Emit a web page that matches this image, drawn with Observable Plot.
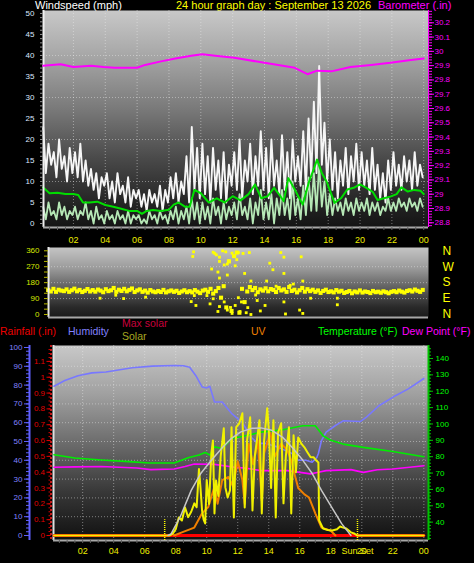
<!DOCTYPE html>
<html><head><meta charset="utf-8">
<script src="https://cdn.jsdelivr.net/npm/d3@7"></script>
<script src="https://cdn.jsdelivr.net/npm/@observablehq/plot@0.6"></script>
<style>
html,body{margin:0;padding:0;background:#000;}
#root{position:relative;width:474px;height:563px;overflow:hidden;background:#000;font-family:"Liberation Sans",Arial,sans-serif;}
#root svg{position:absolute;left:0;top:0;}
.t{position:absolute;white-space:nowrap;font-size:11px;line-height:11px;}
.h{position:absolute;white-space:nowrap;font-size:10.5px;line-height:11px;}
</style></head>
<body><div id="root">
<div class="t" style="left:35px;top:0px;color:#ffffff">Windspeed (mph)</div>
<div class="t" style="left:176px;top:0px;color:#ffff00">24 hour graph day : September 13 2026</div>
<div class="t" style="left:378px;top:0px;color:#ff00ff">Barometer (.in)</div>
<div class="h" style="left:0px;top:326px;color:#ee0000">Rainfall (.in)</div>
<div class="h" style="left:68px;top:326px;color:#8080ff">Humidity</div>
<div class="h" style="left:122px;top:318px;color:#c8003c">Max solar</div>
<div class="h" style="left:122px;top:331px;color:#a8a820">Solar</div>
<div class="h" style="left:251px;top:326px;color:#f08000">UV</div>
<div class="h" style="left:318px;top:326px;color:#00ff00">Temperature (°F)</div>
<div class="h" style="left:402px;top:326px;color:#ff00ff">Dew Point (°F)</div>
</div>
<script>
// ---------------- DATA ----------------
const hourTicks = [2,4,6,8,10,12,14,16,18,20,22,24];
const windTicks = [0,5,10,15,20,25,30,35,40,45,50];
const baroTicks = [28.8,28.9,29,29.1,29.2,29.3,29.4,29.5,29.6,29.7,29.8,29.9,30,30.1,30.2];
const dirTicks = [0,90,180,270,360];
const compassTicks = [360,270,180,90,0];
const compassLabels = ["N","W","S","E","N"];
const rainTicks = [0,0.1,0.2,0.3,0.4,0.5,0.6,0.7,0.8,0.9,1,1.1];
const humTicks = [0,10,20,30,40,50,60,70,80,90,100];
const tempTicks = [40,50,60,70,80,90,100,110,120,130,140];
const sunEvents = [7.29, 19.72];
const sunSetLabel = [{h: 19.72, label: "Sun Set"}];

// 10-minute samples starting 00:06
const tenMinHours = d3.range(144).map(i => 0.1 + i / 6);

const gust = [
23,12,19,14,17,11,
20,13,16,10,18,12,
17,11,19,10,15,9,
13,8,12,6,11,9,
12,6,10,5,12,7,
9,5,11,4,8,6,
8,4,7,3,8,5,
7,4,9,3,8,5,
11,6,12,5,10,7,
16,5,23,8,18,6,
19,7,16,5,18,8,
15,6,17,5,14,9,
17,8,20,6,15,10,
19,7,16,9,22,8,
18,6,20,9,15,7,
21,8,17,6,20,10,
16,9,22,8,25,11,
29,12,37.5,14,24,10,
20,8,17,6,15,9,
18,7,16,10,19,8,
17,9,15,7,18,8,
14,6,12,5,15,8,
17,9,14,8,16,10,
15,8,17,9,14,11];

const speed = [
4,1,5,2,3,1,
5,2,4,1,3,2,
4,1,3,2,5,1,
3,0,4,1,2,0,
3,1,2,0,3,1,
2,0,3,0,2,1,
2,0,1,0,3,1,
2,0,3,1,2,0,
3,1,4,0,3,1,
4,0,6,1,5,0,
5,1,4,0,6,2,
4,0,5,1,4,2,
5,1,7,2,4,1,
6,0,5,2,8,1,
5,1,7,0,6,2,
8,2,6,1,10,2,
6,1,9,2,11,3,
12,3,14,4,10,2,
7,2,6,3,5,2,
6,3,5,2,6,3,
5,3,6,2,5,3,
5,2,4,3,6,3,
5,3,6,4,5,3,
6,4,5,3,6,4];

const avgWind = [[0.1,8.6],[0.5,7.2],[1,7.3],[1.5,7],[2,7],[2.3,6.8],[2.6,5],[3,5],[3.5,5.2],[4,4.4],[4.5,4],[5,3.5],[5.5,3],[6,3],[6.3,2.3],[6.6,3],[7,3.2],[7.5,3],[8,3.3],[8.3,4.5],[8.6,5],[9,4],[9.3,4],[9.6,8],[10,7.2],[10.5,5],[11,6],[11.5,5],[12,6.5],[12.5,5.5],[13,7],[13.4,9.3],[13.8,6],[14.2,6.5],[14.6,8.5],[15,6.5],[15.2,5.3],[15.5,10.8],[15.9,8.1],[16.4,4.5],[16.8,10],[17.1,13],[17.3,15.2],[17.6,12],[17.9,10],[18.4,4.9],[18.8,6],[19.2,8.1],[19.6,8.5],[20,9.3],[20.4,8.5],[20.8,7.5],[21.1,5.6],[21.5,6],[21.9,6.4],[22.3,7],[22.6,8.6],[23,7.6],[23.4,8],[23.8,7.8],[24,7]];

const barometer = [[0.1,29.9],[1.2,29.91],[2,29.89],[3.1,29.9],[3.9,29.89],[4.6,29.885],[6,29.885],[6.5,29.905],[7.5,29.93],[8.4,29.95],[9.4,29.97],[10.1,29.98],[10.9,29.97],[12.1,29.955],[14,29.92],[15.9,29.885],[16.7,29.84],[17.3,29.865],[18.2,29.86],[19.4,29.89],[20.7,29.905],[21.9,29.92],[23.2,29.94],[24,29.95]];

const dirBand = [
138,130,145,128,140,135,
132,142,128,137,146,131,
139,127,134,144,130,138,
129,141,135,126,143,132,
137,150,128,140,133,145,
131,139,147,127,136,142,
128,135,124,138,130,126,
133,127,139,125,131,136,
128,134,122,130,137,126,
132,125,138,129,121,135,
140,128,145,118,132,150,
95,160,40,300,20,330,
350,10,145,70,130,155,
138,150,126,142,135,148,
131,144,139,127,150,136,
142,128,155,133,140,125,
137,150,129,143,132,140,
128,136,122,133,140,127,
131,125,138,129,134,122,
127,133,120,130,125,136,
124,130,127,121,133,126,
129,123,131,126,120,128,
132,126,135,129,124,133,
137,130,141,134,128,139];

const dirScatter = [[9.35,354],[10.6,352],[10.8,337],[11.0,324],[11.4,354],[11.8,347],[12.2,350],[12.9,350],[9.3,328],[11.0,300],[11.6,304],[12.1,310],[10.5,257],[11.5,285],[14.2,290],[14.9,350],[15.1,324],[14.4,253],[16.2,326],[11.0,206],[11.5,223],[12.6,232],[13.0,189],[14.0,189],[15.7,172],[16.3,189],[15.1,232],[9.2,73],[9.5,51],[10.2,107],[10.6,89],[11.0,45],[10.9,17],[11.3,71],[11.5,25],[11.8,6],[12.0,51],[12.3,17],[12.4,71],[12.8,39],[13.0,0],[13.4,79],[13.9,51],[15.1,71],[15.2,3],[16.1,25],[16.3,6],[18.5,92],[18.5,55],[16.8,92],[9.4,107],[3.4,92],[4.9,90],[6.3,98],[4.4,109],[10.7,345],[11.2,360],[11.9,330],[12.5,345],[11.3,280],[12.0,275],[10.9,240],[13.3,110],[14.6,160],[15.5,165],[12.7,10],[11.7,40],[10.4,60],[12.2,95],[13.6,20]];

const rainfall = [[0.15,0],[24,0]];
const humidity = [[0.15,79.4],[0.85,82.4],[1.7,85],[2.6,86.5],[3.5,87],[4.1,87.8],[5.2,89.2],[6.5,90.1],[7.9,90.4],[8.5,90.3],[8.9,89.5],[9.3,85],[9.7,79],[10.0,78.5],[10.2,79.4],[10.5,71],[11.0,71],[11.3,68],[11.6,65],[12.3,60],[12.9,52],[13.3,49],[13.8,49],[14.6,47],[15.5,43.6],[15.9,40],[16.4,40],[16.8,39],[17.1,41.5],[17.2,43.6],[17.4,50.5],[17.7,55],[18.3,58.5],[18.8,61],[19.9,60.6],[20.3,63],[21.1,69],[22.2,74.5],[23.0,78],[24.0,83.5]];
const temperature = [[0.15,81.2],[1.5,79.2],[3.2,78],[5,77],[6.3,76.1],[7.9,76.1],[8.8,79.4],[9.5,81],[9.9,82.6],[10.2,81],[10.5,86],[11,85],[11.6,91],[12.5,92.8],[13.5,95],[14.9,96.5],[16.2,98.9],[17,98.9],[17.2,96.5],[17.5,92.8],[18,90],[18.8,87.7],[20.1,85.7],[22,83.2],[24,80]];
const dewPoint = [[0.15,73.5],[1.5,73.8],[3.2,74],[5.5,73.1],[6.4,72.1],[7.9,72.5],[8.6,74],[9.2,75.5],[10.5,75.3],[11.8,73.5],[12.5,73],[13.5,71.5],[15.2,71.5],[16.7,69.5],[17.2,70.5],[17.7,71.5],[19.3,72.1],[20.1,70.4],[21,72],[22,72.5],[24,74.5]];
const solar = [[0.15,0],[7.6,0],[7.8,10],[8.0,40],[8.2,114],[8.4,95],[8.6,177],[8.8,116],[9.0,150],[9.2,203],[9.35,179],[9.5,420],[9.6,300],[9.7,158],[9.8,100],[9.9,76],[10.0,350],[10.15,200],[10.3,519],[10.4,601],[10.5,139],[10.6,348],[10.75,250],[10.9,500],[11.1,677],[11.2,304],[11.35,240],[11.5,285],[11.6,684],[11.75,114],[11.9,685],[12.1,709],[12.3,772],[12.45,177],[12.6,600],[12.8,747],[12.95,158],[13.1,500],[13.4,728],[13.55,139],[13.7,600],[13.9,804],[14.0,671],[14.15,300],[14.3,728],[14.45,114],[14.6,650],[14.8,709],[14.95,203],[15.1,500],[15.3,684],[15.45,139],[15.6,633],[15.75,400],[15.9,620],[16.1,580],[16.3,557],[16.5,525],[16.7,494],[16.9,494],[17.05,475],[17.2,462],[17.25,95],[17.5,44],[17.8,35],[18.1,32],[18.4,40],[18.6,57],[18.8,50],[19.0,44],[19.3,20],[19.5,13],[19.7,0],[24,0]];
const maxSolar = [[7.5,0],[7.7,10],[8.3,120],[9,285],[9.6,390],[10.3,475],[11,555],[11.6,614],[12.2,655],[12.9,677],[13.5,680],[14.2,665],[14.9,620],[15.5,557],[16.2,475],[16.8,392],[17.4,285],[18.1,171],[18.7,75],[19.3,0]];
const uvIndex = [[7.9,0],[8.4,0.2],[9.2,0.5],[9.7,1.4],[10.1,1.8],[10.5,3.1],[10.7,2.0],[11.0,3.5],[11.4,3.7],[11.7,3.1],[12.0,4.7],[12.3,3.5],[12.45,2.0],[12.7,5.8],[13.0,4.5],[13.3,6.0],[13.55,2.2],[13.7,5.2],[14.1,6.5],[14.4,5.0],[14.8,5.8],[15.2,5.4],[15.5,4.6],[15.6,4.1],[15.9,3.0],[16.3,2.6],[16.6,2.4],[17.0,1.4],[17.4,0.5],[18.0,0.3],[18.3,0]];

// ---------------- HELPERS ----------------
const FONT = '"Liberation Sans", Arial, sans-serif';
const W = 474, H = 563;
const xDomain = [0.12, 24.3];
const fmtHour = h => String(h % 24).padStart(2, "0");
const pts = arr => arr.map(([h, v]) => ({h, v}));
const reg = (hours, vals) => hours.map((h, i) => ({h, v: vals[i]}));
const noText = () => "";
const dotted = {stroke: "#f0f0f0", strokeOpacity: 0.45, strokeDasharray: "1,2"};

function layer(box, y, marks) {
  return Plot.plot({
    width: W, height: H,
    marginLeft: box[0], marginRight: W - box[1], marginTop: box[2], marginBottom: H - box[3],
    style: {background: "transparent", fontFamily: FONT, color: "#ccc", overflow: "visible"},
    x: {domain: xDomain, axis: null, label: null},
    y: {domain: y, axis: null, label: null},
    marks
  });
}
function addGradient(svg, id, stops) {
  const g = d3.select(svg).insert("defs", ":first-child")
    .append("linearGradient").attr("id", id)
    .attr("x1", 0).attr("y1", 0).attr("x2", 0).attr("y2", 1);
  for (const [o, c] of stops) g.append("stop").attr("offset", o).attr("stop-color", c);
}
const root = document.getElementById("root");

// ---------------- TOP PANEL ----------------
const topBox = [43, 428, 10, 227];
const windDomain = [-0.95, 50.7];
const baroDomain = [28.767, 30.286];

const windSvg = layer(topBox, windDomain, [
  Plot.frame({fill: "url(#bgTop)", stroke: "none"}),
  Plot.gridX(hourTicks, dotted),
  Plot.gridY([10, 20, 30, 40], dotted),
  Plot.line(reg(tenMinHours, gust), {x: "h", y: "v", stroke: "#f6f6f6", strokeWidth: 1.9}),
  Plot.line(reg(tenMinHours, speed), {x: "h", y: "v", stroke: "#b6e8b6", strokeWidth: 1.8}),
  Plot.line(pts(avgWind), {x: "h", y: "v", stroke: "#00dd00", strokeWidth: 2}),
  Plot.ruleX([xDomain[0]], {stroke: "#f0f0f0", strokeWidth: 2}),
  Plot.ruleY([windDomain[0]], {stroke: "#a8a8a8", strokeWidth: 2}),
  Plot.axisY(d3.range(0, 51, 1), {anchor: "left", tickSize: 3, tickFormat: noText, stroke: "#909090", label: null}),
  Plot.axisY(windTicks, {anchor: "left", tickSize: 0, tickPadding: 9, tickFormat: d => String(d), fill: "#dce8ff", fontSize: 8, label: null}),
  Plot.axisX(d3.range(0.5, 24.3, 0.5), {anchor: "bottom", tickSize: 3, tickFormat: noText, stroke: "#606060", label: null}),
  Plot.axisX(hourTicks, {anchor: "bottom", tickSize: 0, tickPadding: 9, tickFormat: fmtHour, fill: "#eeee00", fontSize: 9, label: null})
]);
addGradient(windSvg, "bgTop", [[0, "#c8c8c8"], [0.2, "#a8a8a8"], [0.45, "#7a7a7a"], [0.7, "#464646"], [0.9, "#222"], [1, "#141414"]]);
root.appendChild(windSvg);

const baroSvg = layer(topBox, baroDomain, [
  Plot.line(pts(barometer), {x: "h", y: "v", stroke: "#ff00ff", strokeWidth: 2}),
  Plot.ruleX([xDomain[1]], {stroke: "#ff00ff", strokeWidth: 1}),
  Plot.axisY(d3.range(28.78, 30.29, 0.02), {anchor: "right", tickSize: 3, tickFormat: noText, stroke: "#ff00ff", label: null}),
  Plot.axisY(baroTicks, {anchor: "right", tickSize: 5, tickPadding: 1, tickFormat: d => String(+d.toFixed(1)), fill: "#ff00ff", stroke: "#ff00ff", fontSize: 8, label: null})
]);
root.appendChild(baroSvg);

// ---------------- MIDDLE PANEL ----------------
const midBox = [48, 428, 247, 317];
const dirDomain = [-17, 378.6];
const dirSvg = layer(midBox, dirDomain, [
  Plot.frame({fill: "url(#bgMid)", stroke: "none"}),
  Plot.gridY([90, 180, 270], dotted),
  Plot.dot(reg(tenMinHours, dirBand), {x: "h", y: "v", r: 2.3, symbol: "square", fill: "#ffff00", stroke: "none"}),
  Plot.dot(pts(dirScatter), {x: "h", y: "v", r: 1.6, symbol: "square", fill: "#ffff00", stroke: "none"}),
  Plot.ruleX([xDomain[0]], {stroke: "#e8e8e8", strokeWidth: 2}),
  Plot.ruleY([dirDomain[0]], {stroke: "#a8a8a8", strokeWidth: 2}),
  Plot.axisY(d3.range(0, 361, 30), {anchor: "left", tickSize: 4, tickFormat: noText, stroke: "#b8b800", label: null}),
  Plot.axisY(dirTicks, {anchor: "left", tickSize: 0, tickPadding: 9, tickFormat: d => String(d), fill: "#d8e800", fontSize: 8, label: null}),
  Plot.axisY(compassTicks, {anchor: "right", tickSize: 0, tickPadding: 14, tickFormat: d => compassLabels[compassTicks.indexOf(d)], fill: "#ffff00", fontSize: 12, label: null})
]);
addGradient(dirSvg, "bgMid", [[0, "#c4c4c4"], [0.3, "#9a9a9a"], [0.6, "#5a5a5a"], [0.85, "#2a2a2a"], [1, "#1a1a1a"]]);
root.appendChild(dirSvg);

// ---------------- BOTTOM PANEL ----------------
const botBox = [53, 428, 345, 540];
const rainDomain = [-0.0316, 1.2006];
const humDomain = [-2.66, 101.06];
const tempDomain = [28.78, 147.95];
const solarDomain = [-31.6, 1200.6];
const uvDomain = [-0.316, 12.006];

const rainSvg = layer(botBox, rainDomain, [
  Plot.frame({fill: "url(#bgBot)", stroke: "none"}),
  Plot.gridX(hourTicks, dotted),
  Plot.ruleX([xDomain[0]], {stroke: "#e0e0e0", strokeWidth: 2}),
  Plot.ruleX([xDomain[0]], {dx: -2.5, stroke: "#ff2020", strokeWidth: 1.5, strokeDasharray: "2,2"}),
  Plot.ruleY([rainDomain[0]], {stroke: "#a8a8a8", strokeWidth: 2}),
  Plot.axisY(d3.range(0, 1.2, 0.025), {anchor: "left", dx: -2.5, tickSize: 2, tickFormat: noText, stroke: "#d00000", label: null}),
  Plot.axisY(rainTicks, {anchor: "left", dx: -2.5, tickSize: 4, tickPadding: 2, tickFormat: d => String(d), fill: "#e00000", stroke: "#e00000", fontSize: 8, label: null}),
  Plot.line(pts(rainfall), {x: "h", y: "v", stroke: "#ff0000", strokeWidth: 3})
]);
addGradient(rainSvg, "bgBot", [[0, "#c8c8c8"], [0.25, "#a0a0a0"], [0.5, "#6c6c6c"], [0.75, "#383838"], [1, "#101010"]]);
root.appendChild(rainSvg);

const humSvg = layer(botBox, humDomain, [
  Plot.gridY([10, 20, 30, 40, 50, 60, 70, 80, 90, 100], dotted),
  Plot.ruleX([xDomain[0]], {dx: -24, stroke: "#6060ff", strokeWidth: 2}),
  Plot.axisY(d3.range(0, 101, 2), {anchor: "left", dx: -24, tickSize: 3, tickFormat: noText, stroke: "#6060ff", label: null}),
  Plot.axisY(humTicks, {anchor: "left", dx: -24, tickSize: 5, tickPadding: 2, tickFormat: d => String(d), fill: "#8080ff", stroke: "#6060ff", fontSize: 8, label: null}),
  Plot.line(pts(humidity), {x: "h", y: "v", stroke: "#7878ff", strokeWidth: 1.6})
]);
root.appendChild(humSvg);

const tempSvg = layer(botBox, tempDomain, [
  Plot.ruleX([xDomain[1]], {stroke: "#00c000", strokeWidth: 2}),
  Plot.axisY(d3.range(30, 148, 2), {anchor: "right", tickSize: 2, tickFormat: noText, stroke: "#00c000", label: null}),
  Plot.axisY(tempTicks, {anchor: "right", tickSize: 4, tickPadding: 3, tickFormat: d => String(d), fill: "#00ff00", stroke: "#00c000", fontSize: 8, label: null}),
  Plot.line(pts(temperature), {x: "h", y: "v", stroke: "#00ee00", strokeWidth: 1.6}),
  Plot.line(pts(dewPoint), {x: "h", y: "v", stroke: "#ff00ff", strokeWidth: 1.6})
]);
root.appendChild(tempSvg);

const uvSvg = layer(botBox, uvDomain, [
  Plot.line(pts(uvIndex), {x: "h", y: "v", stroke: "#f08000", strokeWidth: 2})
]);
root.appendChild(uvSvg);

const solarSvg = layer(botBox, solarDomain, [
  Plot.line(pts(solar), {x: "h", y: "v", stroke: "#f0f000", strokeWidth: 2}),
  Plot.line(pts(maxSolar), {x: "h", y: "v", stroke: "#c8c8c8", strokeWidth: 1.5}),
  Plot.ruleX(sunEvents, {y1: solarDomain[0], y2: 100, stroke: "#ffff00", strokeWidth: 1.5, strokeDasharray: "1,1"}),
  Plot.axisX(d3.range(0.5, 24.3, 0.5), {anchor: "bottom", tickSize: 3, tickFormat: noText, stroke: "#606060", label: null}),
  Plot.axisX(hourTicks, {anchor: "bottom", tickSize: 0, tickPadding: 7, tickFormat: fmtHour, fill: "#eeee00", fontSize: 9, label: null}),
  Plot.text(sunSetLabel, {x: "h", text: "label", frameAnchor: "bottom", lineAnchor: "top", dy: 7, fill: "#eeee00", fontSize: 9})
]);
root.appendChild(solarSvg);
</script>
</body></html>
